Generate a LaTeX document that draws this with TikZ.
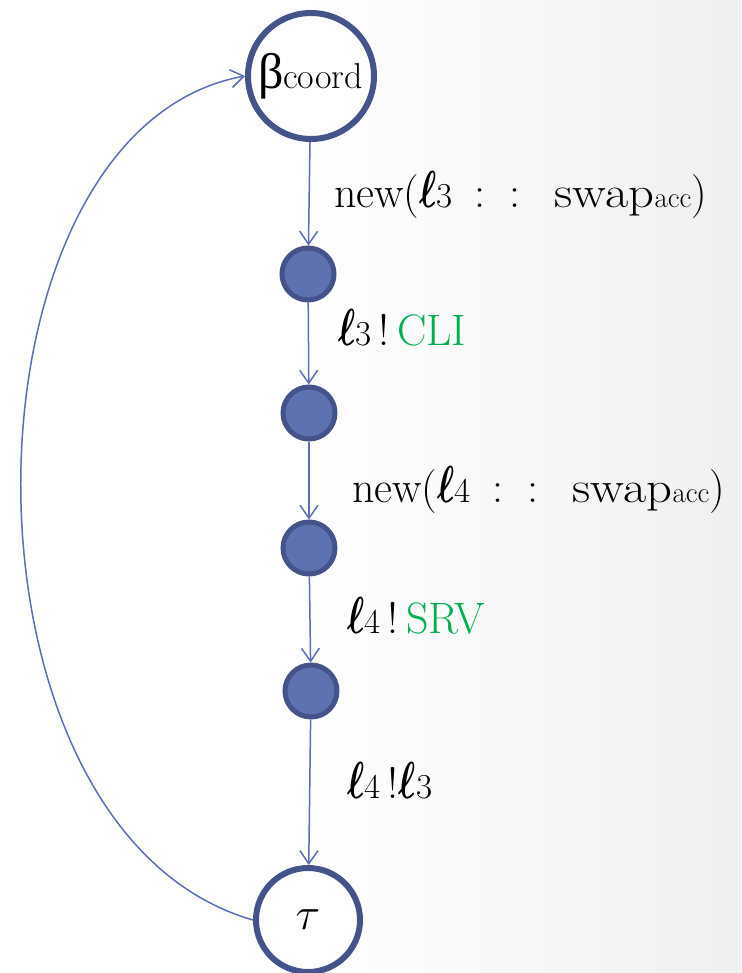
\RequirePackage{fix-cm}
\documentclass[tikz,border=0pt]{standalone}
\usepackage{amsmath}
\usepackage{amssymb}
\usepackage{bm}
\usepackage{fontspec}
\usetikzlibrary{arrows.meta,positioning}

\newfontfamily\greekfont{Liberation Serif}

\definecolor{ringblue}{HTML}{44548A}
\definecolor{dotblue}{HTML}{5E72B2}
\definecolor{arcblue}{HTML}{5B6EB8}
\definecolor{msggreen}{HTML}{00B050}

% light fade towards the right edge
\pgfdeclarehorizontalshading{bgfade}{100bp}{color(0bp)=(white); color(45bp)=(white); color(100bp)=(black!11)}

% channel name with its index
\newcommand{\chan}[1]{\scalebox{0.7}[1]{\fontsize{52}{52}\selectfont$\bm{\ell}$}{\fontsize{35}{35}\selectfont #1}}
\newcommand{\swapacc}{\scalebox{1.15}[1]{swap}{\fontsize{29}{29}\selectfont acc}}

\begin{document}
\begin{tikzpicture}[x=1pt,y=-1pt,
	state/.style={draw=ringblue,line width=6pt,circle,fill=white,inner sep=0pt},
	dotnode/.style={draw=ringblue,line width=5pt,circle,fill=dotblue,
		minimum size=52pt,inner sep=0pt},
	trans/.style={draw=arcblue,line width=1.5pt,-{Straight Barb[length=13pt,width=18pt]}},
	lab/.style={anchor=base west,inner sep=0pt,font=\fontsize{44}{48}\selectfont}]
	\useasboundingbox (0,0) rectangle (741,973);
	\shade[shading=bgfade] (0,0) rectangle (741,973);

	\node[state,minimum size=126pt] (beta) at (311,76) {{\greekfont\fontsize{50}{50}\selectfont β}\kern-1pt{\fontsize{36}{36}\selectfont coord}};
	\node[dotnode] (c1) at (308,274) {};
	\node[dotnode] (c2) at (309,413) {};
	\node[dotnode] (c3) at (309,548) {};
	\node[dotnode] (c4) at (311,691) {};
	\node[state,minimum size=104pt] (tau) at (308,920) {\fontsize{46}{46}\selectfont$\tau$};

	\draw[trans] (beta) -- (c1);
	\draw[trans] (c1) -- (c2);
	\draw[trans] (c2) -- (c3);
	\draw[trans] (c3) -- (c4);
	\draw[trans] (c4) -- (tau);
	\draw[trans] (tau.west) .. controls +(-313,-90) and +(-295,54) .. (beta.west);

	\node[lab] (new3) at (334,208) {new(\chan{3}\hspace{22pt}:\hspace{24pt}:\hspace{34pt}\swapacc)};
	\node[lab] (cli) at (338,345) {\chan{3}\,!\,\textcolor{msggreen}{CLI}};
	\node[lab] (new4) at (352,502) {new(\chan{4}\hspace{22pt}:\hspace{24pt}:\hspace{34pt}\swapacc)};
	\node[lab] (srv) at (347,633) {\chan{4}\,!\,\textcolor{msggreen}{SRV}};
	\node[lab] (fwd) at (347,798) {\chan{4}\,!\chan{3}};
\end{tikzpicture}
\end{document}
